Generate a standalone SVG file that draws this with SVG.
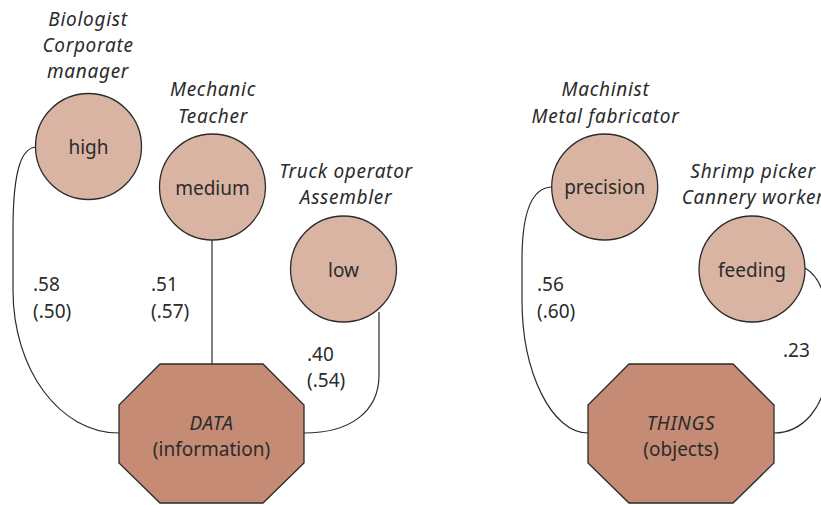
<svg xmlns="http://www.w3.org/2000/svg" width="821" height="505" viewBox="0 0 821 505">
<style>
text{font-family:"Noto Sans","Liberation Sans",sans-serif;font-size:19px;fill:#2b2b2b}
.c{text-anchor:middle}
.i{font-style:italic;letter-spacing:0.7px}
.circ{fill:#dab4a2;stroke:#2b2b2b;stroke-width:1.3}
.oct{fill:#c58b74;stroke:#2b2b2b;stroke-width:1.3}
.edge{fill:none;stroke:#2b2b2b;stroke-width:1.2}
</style>
<rect width="821" height="505" fill="#ffffff"/>
<g id="connectors">
<path class="edge" d="M36,147 C23,148 13,165 13,230 L13,290 C13,370 60,433 119,433"/>
<path class="edge" d="M212,240 L212,364"/>
<path class="edge" d="M379,312 L379,375 C379,412 350,433 304,433"/>
<path class="edge" d="M551,187 C535,188 522,205 522,260 L522,300 C522,373 552,433 588,433"/>
<path class="edge" d="M805,268 C822,278 828,300 828,330 L828,360 C828,410 800,433 774,433"/>
</g>
<g id="labels">
<text x="33" y="291">.58</text>
<text x="33" y="318">(.50)</text>
<text x="151" y="291">.51</text>
<text x="151" y="318">(.57)</text>
<text x="307" y="361">.40</text>
<text x="307" y="387">(.54)</text>
<text x="537" y="291">.56</text>
<text x="537" y="318">(.60)</text>
<text x="783" y="357">.23</text>
</g>
<g id="high">
<text class="c i" x="88" y="26">Biologist</text>
<text class="c i" x="88" y="52">Corporate</text>
<text class="c i" x="88" y="78">manager</text>
<circle class="circ" cx="88.5" cy="146.5" r="53"/>
<text class="c" x="88.5" y="154">high</text>
</g>
<g id="medium">
<text class="c i" x="213" y="96">Mechanic</text>
<text class="c i" x="213" y="123">Teacher</text>
<circle class="circ" cx="212.5" cy="187" r="53"/>
<text class="c" x="212.5" y="195">medium</text>
</g>
<g id="low">
<text class="c i" x="346" y="178">Truck operator</text>
<text class="c i" x="346" y="204">Assembler</text>
<circle class="circ" cx="343.5" cy="269" r="53"/>
<text class="c" x="343.5" y="277">low</text>
</g>
<g id="data">
<polygon class="oct" points="160,364 263,364 304,405 304,463 263,503 160,503 119,463 119,405"/>
<text class="c i" x="211.5" y="430">DATA</text>
<text class="c" x="211.5" y="456">(information)</text>
</g>
<g id="precision">
<text class="c i" x="605.5" y="96">Machinist</text>
<text class="c i" x="605.5" y="123">Metal fabricator</text>
<circle class="circ" cx="604.7" cy="187" r="53"/>
<text class="c" x="604.7" y="194">precision</text>
</g>
<g id="feeding">
<text class="c i" x="753" y="178">Shrimp picker</text>
<text class="c i" x="753" y="204">Cannery worker</text>
<circle class="circ" cx="752" cy="269" r="53"/>
<text class="c" x="752" y="277">feeding</text>
</g>
<g id="things">
<polygon class="oct" points="629,364 733,364 774,405 774,463 733,503 629,503 588,463 588,405"/>
<text class="c i" x="681" y="430">THINGS</text>
<text class="c" x="681" y="456">(objects)</text>
</g>
</svg>
